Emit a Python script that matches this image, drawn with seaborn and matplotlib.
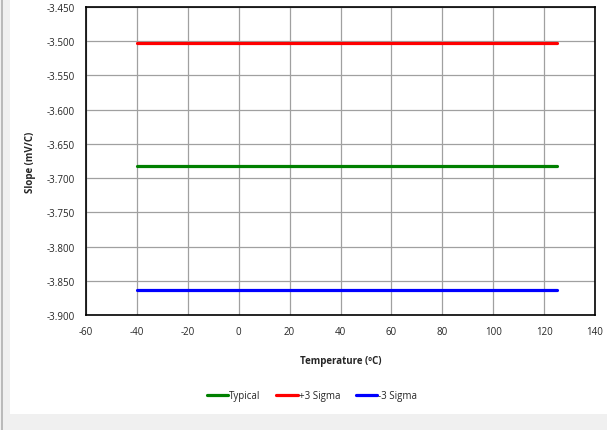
import matplotlib
matplotlib.use("Agg")
import matplotlib.pyplot as plt
import seaborn as sns
import pandas as pd
from matplotlib.patches import Rectangle
from matplotlib.lines import Line2D

# data
temps = [-40, 25, 125]
typical = [-3.683, -3.683, -3.683]
plus3 = [-3.503, -3.503, -3.503]
minus3 = [-3.864, -3.864, -3.864]
series_names = ['Typical', '+3 Sigma', '-3 Sigma']
series_colors = ['#008000', '#ff0000', '#0000ff']
x_ticks = list(range(-60, 141, 20))
y_ticks = [-3.900, -3.850, -3.800, -3.750, -3.700, -3.650, -3.600, -3.550, -3.500, -3.450]

df = pd.DataFrame({
    'Temperature': temps * 3,
    'Slope': typical + plus3 + minus3,
    'Series': [series_names[0]] * 3 + [series_names[1]] * 3 + [series_names[2]] * 3,
})

sns.set_style('white')
plt.rcParams['font.family'] = ['Open Sans', 'DejaVu Sans']
plt.rcParams['axes.unicode_minus'] = False

fig = plt.figure(figsize=(6.07, 4.31), dpi=100)
fig.patch.set_facecolor('#f0f0f0')
W, H = 607, 431
# white chart area and left border line
fig.patches.append(Rectangle((10 / W, (H - 415) / H), 597 / W, 415 / H,
                             transform=fig.transFigure, facecolor='white', edgecolor='none', zorder=-10))
fig.lines.append(Line2D([2 / W, 2 / W], [0, 1], transform=fig.transFigure, color='#b0b0b0', lw=1.2,
                        zorder=-5))

ax = fig.add_axes([86 / W, (H - 316) / H, (595 - 86) / W, (316 - 8) / H])
ax.set_zorder(1)
sns.lineplot(data=df, x='Temperature', y='Slope', hue='Series', hue_order=series_names,
             palette=series_colors, linewidth=2.3, ax=ax, legend=False)

ax.set_xlim(-60, 140)
ax.set_ylim(-3.900, -3.450)
ax.set_xticks(x_ticks)
ax.set_yticks(y_ticks)
ax.set_yticklabels([f'{v:.3f}' for v in y_ticks])
ax.tick_params(axis='both', labelsize=7, length=0, pad=8)
ax.grid(True, color='#a0a0a0', linewidth=0.9)
ax.set_axisbelow(True)
for s in ax.spines.values():
    s.set_color('black')
    s.set_linewidth(1.2)

ax.set_xlabel('Temperature (ºC)', fontsize=7, fontweight='bold', labelpad=13)
ax.set_ylabel('Slope (mV/C)', fontsize=7, fontweight='bold', labelpad=8)

handles = [Line2D([0], [0], color=c, lw=2.3) for c in series_colors]
fig.legend(handles, series_names, loc='center', bbox_to_anchor=(312 / W, (H - 397) / H),
           ncol=3, frameon=False, fontsize=7, handlelength=2.2, handletextpad=0.1,
           columnspacing=1.6)

plt.savefig('out.png', dpi=100, facecolor=fig.get_facecolor())
